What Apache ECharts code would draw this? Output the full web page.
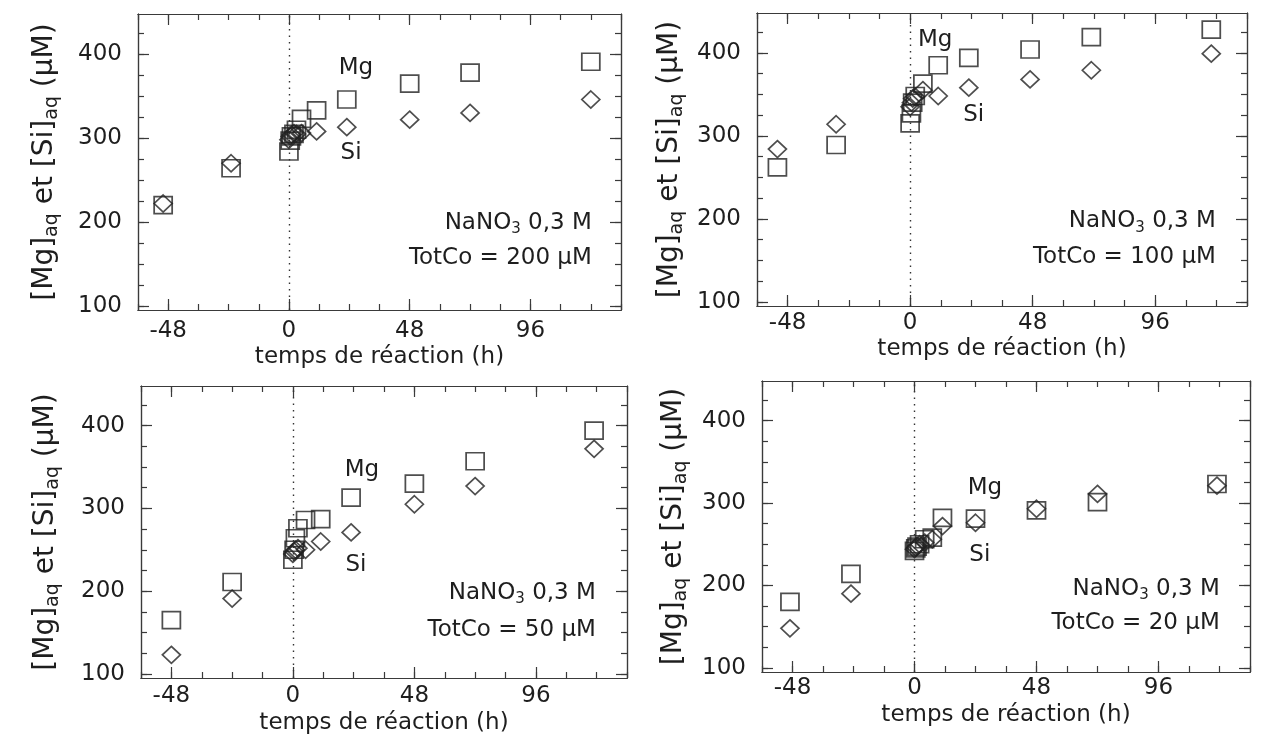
<!DOCTYPE html>
<html>
<head>
<meta charset="utf-8">
<script src="https://cdn.jsdelivr.net/npm/echarts@6/dist/echarts.min.js"></script>
<style>
html,body{margin:0;padding:0;background:#fff;}
#chart{width:1268px;height:740px;}
</style>
</head>
<body>
<div id="chart"></div>
<script>
// ---- Tick values / labels ----
const xMinorTicks = [-60, -48, -36, -24, -12, 0, 12, 24, 36, 48, 60, 72, 84, 96, 108, 120, 132];
const xMajorTicks = [-48, 0, 48, 96];
const yMinorTicks = [100, 125, 150, 175, 200, 225, 250, 275, 300, 325, 350, 375, 400, 425];
const yMajorTicks = [100, 200, 300, 400];
const xTitle = 'temps de réaction (h)';
const yTitle = '[Mg]{sub|aq} et [Si]{sub|aq} (µM)';

// ---- Panel 1 : TotCo = 200 µM ----
const p1Time = [-50, -23, 0, 0.5, 1, 2, 3, 5, 11, 23, 48, 72, 120];
const p1Mg   = [220, 264, 284, 297, 302, 305, 310, 323, 333, 346, 365, 378, 391];
const p1Si   = [222, 270, 298, 302, 304, 306, 305, 306, 308, 313, 322, 330, 346];
const p1Cond = ['NaNO{sub|3} 0,3 M', 'TotCo = 200 µM'];

// ---- Panel 2 : TotCo = 100 µM ----
const p2Time = [-52, -29, 0, 0.5, 1, 2, 5, 11, 23, 47, 71, 118];
const p2Mg   = [262, 289, 315, 327, 340, 348, 363, 385, 394, 404, 419, 428];
const p2Si   = [284, 314, 335, 340, 345, 347, 355, 348, 358, 368, 379, 399];
const p2Cond = ['NaNO{sub|3} 0,3 M', 'TotCo = 100 µM'];

// ---- Panel 3 : TotCo = 50 µM ----
const p3Time = [-48, -24, 0, 0.5, 1, 2, 5, 11, 23, 48, 72, 119];
const p3Mg   = [165, 211, 238, 250, 264, 276, 286, 287, 313, 330, 357, 394];
const p3Si   = [123, 191, 245, 248, 250, 252, 250, 260, 271, 305, 327, 372];
const p3Cond = ['NaNO{sub|3} 0,3 M', 'TotCo = 50 µM'];

// ---- Panel 4 : TotCo = 20 µM ----
const p4Time = [-49, -25, 0, 0.5, 1, 2, 4, 7, 11, 24, 48, 72, 119];
const p4Mg   = [180, 214, 242, 245, 247, 250, 256, 258, 282, 281, 291, 301, 323];
const p4Si   = [148, 190, 244, 246, 248, 250, 252, 256, 272, 276, 293, 311, 321];
const p4Cond = ['NaNO{sub|3} 0,3 M', 'TotCo = 20 µM'];

// annotation anchors in data units
const p1Notes = {mg: [26.6, 383], si: [24.7, 282], condX: 120.6, condY: [199, 157]};
const p2Notes = {mg: [9.8, 415], si: [24.9, 325], condX: 120, condY: [197, 154]};
const p3Notes = {mg: [27.3, 346], si: [24.9, 232], condX: 119.9, condY: [198, 153]};
const p4Notes = {mg: [27.7, 318], si: [25.7, 237], condX: 120.3, condY: [196, 154]};

const panels = [
  {time: p1Time, mg: p1Mg, si: p1Si, cond: p1Cond, notes: p1Notes,
   grid: {left: 138, top: 14, width: 483, height: 296}, lblMargin: 10, xGap: 36, yGap: 76},
  {time: p2Time, mg: p2Mg, si: p2Si, cond: p2Cond, notes: p2Notes,
   grid: {left: 757, top: 13, width: 490, height: 293}, lblMargin: 6, xGap: 32, yGap: 70},
  {time: p3Time, mg: p3Mg, si: p3Si, cond: p3Cond, notes: p3Notes,
   grid: {left: 141, top: 386, width: 486, height: 292}, lblMargin: 7, xGap: 34, yGap: 78},
  {time: p4Time, mg: p4Mg, si: p4Si, cond: p4Cond, notes: p4Notes,
   grid: {left: 762, top: 381, width: 488, height: 291}, lblMargin: 5, xGap: 32, yGap: 71}
];

const FONT = 'DejaVu Sans';
const INK = '#1e1e1e';
const AXIS = '#3a3a3a';
const MARK = '#222222';
const XMIN = -60, XMAX = 132, YMIN = 95, YMAX = 448;

const grids = [], xAxes = [], yAxes = [], series = [];
const lineStyle = {color: AXIS, width: 1.2};

panels.forEach((p, i) => {
  grids.push(Object.assign({containLabel: false}, p.grid));
  const baseX = {gridIndex: i, type: 'value', min: XMIN, max: XMAX,
    axisLine: {show: true, onZero: false, lineStyle}, splitLine: {show: false}};
  ['bottom', 'top'].forEach(pos => {
    xAxes.push(Object.assign({}, baseX, {position: pos,
      axisTick: {show: true, inside: true, length: 6, customValues: xMinorTicks, lineStyle},
      axisLabel: {show: false}}));
    const major = Object.assign({}, baseX, {position: pos,
      axisTick: {show: true, inside: true, length: 11, customValues: xMajorTicks, lineStyle},
      axisLabel: {show: pos === 'bottom', customValues: xMajorTicks, margin: p.lblMargin,
        fontSize: 23, fontFamily: FONT, color: INK}});
    if (pos === 'bottom') {
      major.name = xTitle;
      major.nameLocation = 'middle';
      major.nameGap = p.xGap;
      major.nameTextStyle = {fontSize: 23, fontFamily: FONT, color: INK, verticalAlign: 'top'};
    }
    xAxes.push(major);
  });
  const baseY = {gridIndex: i, type: 'value', min: YMIN, max: YMAX,
    axisLine: {show: true, onZero: false, lineStyle}, splitLine: {show: false}};
  ['left', 'right'].forEach(pos => {
    yAxes.push(Object.assign({}, baseY, {position: pos,
      axisTick: {show: true, inside: true, length: 6, customValues: yMinorTicks, lineStyle},
      axisLabel: {show: false}}));
    const major = Object.assign({}, baseY, {position: pos,
      axisTick: {show: true, inside: true, length: 11, customValues: yMajorTicks, lineStyle},
      axisLabel: {show: pos === 'left', customValues: yMajorTicks, margin: 16,
        fontSize: 23, fontFamily: FONT, color: INK}});
    if (pos === 'left') {
      major.name = yTitle;
      major.nameLocation = 'middle';
      major.nameGap = p.yGap;
      major.nameTextStyle = {fontSize: 28, fontFamily: FONT, color: INK, lineHeight: 34,
        rich: {sub: {fontSize: 19, fontFamily: FONT, color: INK, verticalAlign: 'bottom', lineHeight: 19}}};
    }
    yAxes.push(major);
  });

  const xi = 4 * i, yi = 4 * i;
  series.push({
    type: 'scatter', name: 'Mg', xAxisIndex: xi, yAxisIndex: yi,
    symbol: 'rect', symbolSize: [18, 17],
    itemStyle: {color: 'rgba(255,255,255,0)', borderColor: MARK, borderWidth: 1.7},
    data: p.time.map((t, k) => [t, p.mg[k]]),
    markLine: {silent: true, symbol: 'none', label: {show: false},
      lineStyle: {type: [1.5, 5], color: '#333', width: 1.4},
      data: [{xAxis: 0}]},
    z: 3
  });
  series.push({
    type: 'scatter', name: 'Si', xAxisIndex: xi, yAxisIndex: yi,
    symbol: 'diamond', symbolSize: [18, 17],
    itemStyle: {color: 'rgba(255,255,255,0)', borderColor: MARK, borderWidth: 1.7},
    data: p.time.map((t, k) => [t, p.si[k]]),
    z: 3
  });
  const n = p.notes;
  const txt = {fontSize: 23, fontFamily: FONT, color: INK, opacity: 1, textBorderWidth: 0, textShadowBlur: 0};
  series.push({
    type: 'scatter', xAxisIndex: xi, yAxisIndex: yi, silent: true,
    symbol: 'circle', symbolSize: 1, itemStyle: {color: '#ffffff', opacity: 1},
    data: [
      {value: n.mg, label: Object.assign({show: true, position: 'inside', formatter: 'Mg'}, txt)},
      {value: n.si, label: Object.assign({show: true, position: 'inside', formatter: 'Si'}, txt)},
      {value: [n.condX, n.condY[0]], label: Object.assign({show: true, position: 'left', distance: 0,
        formatter: p.cond[0], lineHeight: 28,
        rich: {sub: {fontSize: 15, fontFamily: FONT, color: INK, verticalAlign: 'bottom', lineHeight: 15}}}, txt)},
      {value: [n.condX, n.condY[1]], label: Object.assign({show: true, position: 'left', distance: 0,
        formatter: p.cond[1]}, txt)}
    ],
    z: 4
  });
});

const chart = echarts.init(document.getElementById('chart'), null, {renderer: 'canvas'});
chart.setOption({
  backgroundColor: '#ffffff',
  animation: false,
  textStyle: {fontFamily: FONT},
  grid: grids,
  xAxis: xAxes,
  yAxis: yAxes,
  series: series
});
</script>
</body>
</html>
